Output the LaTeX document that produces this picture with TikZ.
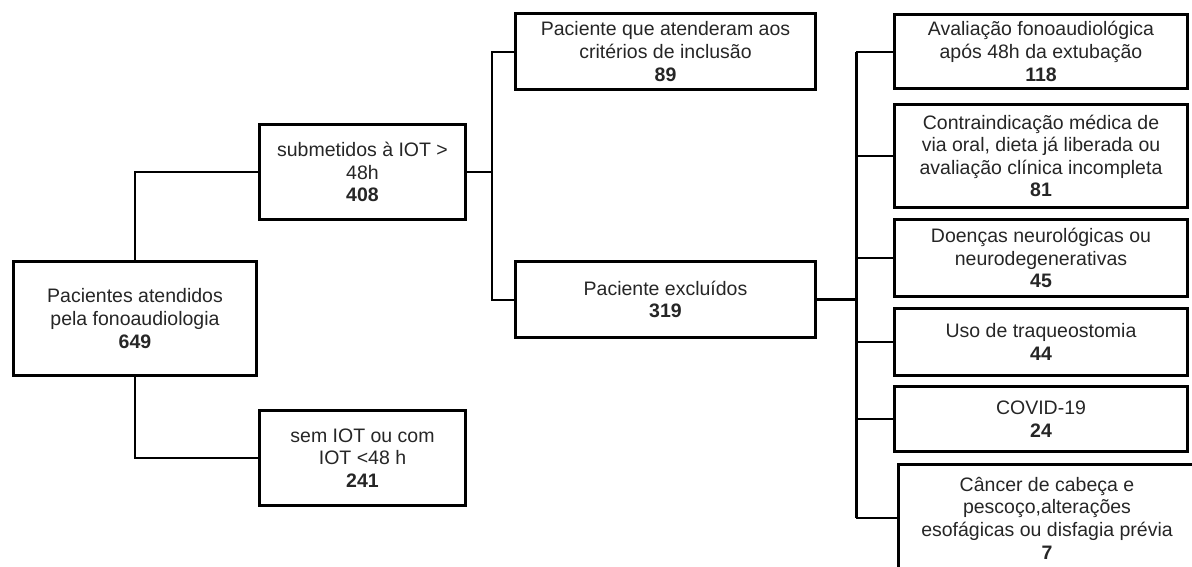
\documentclass[tikz,border=0pt]{standalone}
\usepackage{fontspec}
\setmainfont{Liberation Sans}
\usetikzlibrary{positioning,calc}
\definecolor{ink}{HTML}{262626}
\tikzset{
  box/.style={draw=black, line width=3.2pt, fill=white, text=ink, align=center,
    inner sep=0pt, outer sep=0pt, font=\fontsize{19.5}{22.6}\selectfont},
  wide/.style={box, minimum width=293pt},
  link/.style={line width=2pt},
  trunk/.style={line width=3pt},
}

\begin{document}
\begin{tikzpicture}[x=1pt, y=-1pt]
  \useasboundingbox (0,0) rectangle (1192,566);
  \clip (0,0) rectangle (1192,566);
  % left side
  \node[box, minimum width=243pt, minimum height=114pt] (root) at (135,318.5)
    {Pacientes atendidos\\pela fonoaudiologia\\{\bfseries 649}};
  \node[box, minimum width=206pt, minimum height=95pt] (iot) at (362.5,172)
    {submetidos à IOT >\\48h\\{\bfseries 408}};
  \node[box, minimum width=206pt, minimum height=95pt] (noiot) at (362.5,458)
    {sem IOT ou com\\IOT <48 h\\{\bfseries 241}};
  % middle
  \node[box, minimum width=300pt, minimum height=76pt] (incl) at (665.5,51.5)
    {Paciente que atenderam aos\\critérios de inclusão\\{\bfseries 89}};
  \node[box, minimum width=300pt, minimum height=76pt] (excl) at (665.5,299.5)
    {Paciente excluídos\\{\bfseries 319}};
  % exclusion reasons
  \node[wide, minimum height=74pt] (avalia) at (1041,51.5)
    {Avaliação fonoaudiológica\\após 48h da extubação\\{\bfseries 118}};
  \node[wide, minimum height=103pt, below=16pt of avalia] (contra)
    {Contraindicação médica de\\via oral, dieta já liberada ou\\avaliação clínica incompleta\\{\bfseries 81}};
  \node[wide, minimum height=77pt, below=12pt of contra] (neuro)
    {Doenças neurológicas ou\\neurodegenerativas\\{\bfseries 45}};
  \node[wide, minimum height=67pt, below=12pt of neuro] (traq)
    {Uso de traqueostomia\\{\bfseries 44}};
  \node[wide, minimum height=65pt, below=11pt of traq] (covid)
    {COVID-19\\{\bfseries 24}};
  \node[wide, minimum width=297pt, minimum height=107pt, below=13pt of covid, xshift=6pt] (cancer)
    {Câncer de cabeça e\\pescoço,alterações\\esofágicas ou disfagia prévia\\{\bfseries 7}};
  % connectors
  \coordinate (splitA) at (492,172);
  \coordinate (splitB) at (856,299.5);
  \draw[link] (root.north) |- (iot.west);
  \draw[link] (root.south) |- (noiot.west);
  \draw[link] (iot.east) -- (splitA);
  \draw[link] (incl.west) -| (splitA) |- (excl.west);
  \draw[trunk] (excl.east) -- (splitB);
  \draw[trunk] (splitB |- avalia.west) -- (splitB |- cancer.west);
  \foreach \n in {avalia,contra,neuro,traq,covid,cancer}
    \draw[link] (\n.west) -- (\n.west -| splitB);
\end{tikzpicture}
\end{document}
